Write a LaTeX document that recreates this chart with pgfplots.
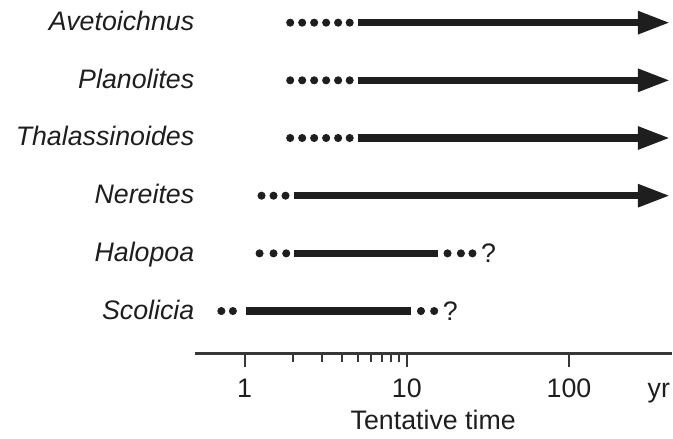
\documentclass[border=0pt]{standalone}
\usepackage{fontspec}
\setmainfont{Liberation Sans}
\usepackage{pgfplots}
\pgfplotsset{compat=1.18}
\usetikzlibrary{arrows.meta}
\definecolor{ink}{RGB}{30,30,30}
\definecolor{axisgray}{RGB}{55,55,55}

\begin{document}
\fontsize{13.4}{16}\selectfont
\begin{tikzpicture}
\begin{axis}[
  xmode=log, scale only axis, width=239pt, height=177pt,
  xmin=0.492, xmax=430.4, ymin=0.266, ymax=6.393,
  axis x line*=bottom, axis y line=none,
  x axis line style={axisgray, line width=1.2pt, -},
  xtick={1,10,100}, xticklabels={1,10,100},
  minor xtick={2,3,4,5,6,7,8,9},
  tick align=outside, major tick length=7pt, minor tick length=4.5pt,
  every tick/.style={axisgray, line width=1pt},
  extra x ticks={358}, extra x tick labels={yr},
  extra x tick style={tick style={draw=none}},
  xticklabel style={text height=9.6pt, text depth=0pt, inner xsep=0pt, yshift=-0.7pt, text=ink},
  xlabel={Tentative time},
  xlabel style={text=ink, at={(axis description cs:0.5,0)}, anchor=base, yshift=-38pt},
  clip=false,
]
% whole picture frame (sets the page size)
\path (axis cs:0.03105,-1.152) rectangle (axis cs:430.4,6.393);

\pgfplotsset{
  dots/.style={only marks, mark=*, mark size=1.8pt, ink},
  bar/.style={ink, line width=3.7pt, no marks},
  tip/.style={-{Triangle[length=15.5pt, width=12pt, line width=0pt]}},
}
\tikzset{taxon/.style={anchor=base east, inner sep=0pt, yshift=-4pt, text=ink, font=\itshape}}

% Avetoichnus
\addplot[dots] coordinates {(1.911,6)(2.265,6)(2.685,6)(3.183,6)(3.773,6)(4.446,6)};
\addplot[bar, tip] coordinates {(4.98,6)(412,6)};
% Planolites
\addplot[dots] coordinates {(1.911,5)(2.265,5)(2.685,5)(3.183,5)(3.773,5)(4.446,5)};
\addplot[bar, tip] coordinates {(4.98,5)(412,5)};
% Thalassinoides
\addplot[dots] coordinates {(1.911,4)(2.265,4)(2.685,4)(3.183,4)(3.773,4)(4.446,4)};
\addplot[bar, tip] coordinates {(4.98,4)(412,4)};
% Nereites
\addplot[dots] coordinates {(1.272,3)(1.508,3)(1.788,3)};
\addplot[bar, tip] coordinates {(2.01,3)(412,3)};
% Halopoa
\addplot[dots] coordinates {(1.237,2)(1.508,2)(1.806,2)};
\addplot[bar] coordinates {(2.02,2)(15.5,2)};
\addplot[dots] coordinates {(17.83,2)(21.56,2)(25.4,2)};
% Scolicia
\addplot[dots] coordinates {(0.719,1)(0.847,1)};
\addplot[bar] coordinates {(1.024,1)(10.6,1)};
\addplot[dots] coordinates {(12.23,1)(14.76,1)};

\node[anchor=west, inner sep=0pt, text=ink] at (axis cs:28.6,2) {?};
\node[anchor=west, inner sep=0pt, text=ink] at (axis cs:16.6,1) {?};

\node[taxon] at (axis cs:0.492,6) {Avetoichnus};
\node[taxon] at (axis cs:0.492,5) {Planolites};
\node[taxon] at (axis cs:0.492,4) {Thalassinoides};
\node[taxon] at (axis cs:0.492,3) {Nereites};
\node[taxon] at (axis cs:0.492,2) {Halopoa};
\node[taxon] at (axis cs:0.492,1) {Scolicia};
\end{axis}
\end{tikzpicture}
\end{document}
